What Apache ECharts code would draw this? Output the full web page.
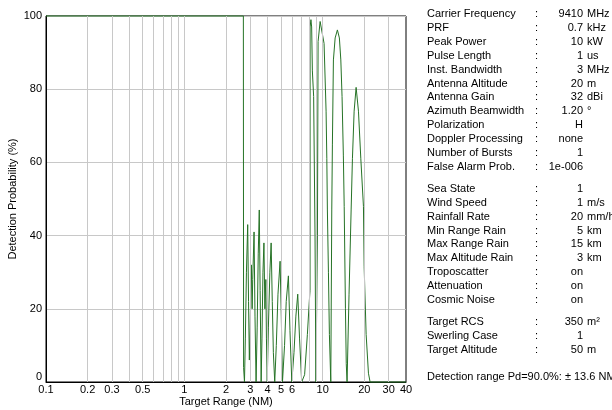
<!DOCTYPE html>
<html>
<head>
<meta charset="utf-8">
<script src="https://cdn.jsdelivr.net/npm/echarts@6/dist/echarts.min.js"></script>
<style>
html,body{margin:0;padding:0;background:#fff;}
#chart{width:612px;height:410px;}
</style>
</head>
<body>
<div id="chart"></div>
<script>
// ---- data ----
const rangeNM = [
  0.1, 2.67, 2.68, 2.72, 2.76, 2.81, 2.87, 2.91, 2.95, 2.99, 3.05, 3.09, 3.12, 3.19, 3.24, 3.30,
  3.36, 3.42, 3.48, 3.53, 3.59, 3.64, 3.70, 3.76, 3.82, 3.88, 3.92, 3.97, 4.05, 4.15, 4.24, 4.32,
  4.40, 4.50, 4.62, 4.75, 4.92, 5.02, 5.12, 5.30, 5.45, 5.65, 5.80, 5.98, 6.20, 6.40, 6.60, 6.80,
  7.05, 7.40, 7.75, 8.00, 8.10, 8.11, 8.22, 8.32, 8.42, 8.60, 8.80, 8.93, 9.12, 9.16, 9.26, 9.58,
  9.90, 10.23, 10.58, 10.71, 10.81, 11.00, 11.18, 11.44, 11.50, 11.63, 11.75, 11.95, 12.30, 12.77,
  13.20, 13.52, 13.80, 14.10, 14.30, 14.60, 14.80, 15.00, 15.09, 15.50, 16.05, 16.40, 16.87, 17.44,
  18.13, 18.86, 19.70, 19.93, 20.60, 21.41, 22.00, 40
];
const pdPercent = [
  100, 100, 4, 0, 12, 30, 43, 22, 6, 15, 32, 20, 28, 41, 18, 0,
  15, 35, 47, 25, 0, 12, 30, 38, 20, 28, 12, 0, 15, 30, 38, 22,
  8, 0, 10, 24, 33, 18, 0, 10, 22, 29, 14, 0, 8, 18, 24, 12,
  0, 2, 13, 22, 25, 97, 99, 97, 85, 78, 40, 0, 0, 40, 93, 98.5,
  99, 92.5, 74, 61, 47, 30, 13, 0, 0, 47, 65, 88, 94, 96.2,
  94, 88, 78, 62, 48, 20, 5, 0, 0, 24, 47, 61, 74, 80.5,
  74, 61, 48, 31.5, 13, 2.4, 0, 0
];
const xTickLabels = [0.1, 0.2, 0.3, 0.5, 1, 2, 3, 4, 5, 6, 10, 20, 30, 40];
const xGridValues = [0.2, 0.3, 0.4, 0.5, 0.6, 0.7, 0.8, 0.9, 1, 2, 3, 4, 5, 6, 7, 8, 9, 10, 20, 30];
const yTicks = [0, 20, 40, 60, 80, 100];

const paramLabels = ['Carrier Frequency','PRF','Peak Power','Pulse Length','Inst. Bandwidth','Antenna Altitude',
  'Antenna Gain','Azimuth Beamwidth','Polarization','Doppler Processing','Number of Bursts','False Alarm Prob.',
  'Sea State','Wind Speed','Rainfall Rate','Min Range Rain','Max Range Rain','Max Altitude Rain',
  'Troposcatter','Attenuation','Cosmic Noise',
  'Target RCS','Swerling Case','Target Altitude'];
const paramValues = ['9410','0.7','10','1','3','20','32','1.20','H','none','1','1e-006',
  '1','1','20','5','15','3','on','on','on',
  '350','1','50'];
const paramUnits = ['MHz','kHz','kW','us','MHz','m','dBi','°','','','','',
  '','m/s','mm/h','km','km','km','','','',
  'm²','','m'];
const blockStarts = [12, 21];
const footerText = 'Detection range Pd=90.0%: ± 13.6 NM';

// ---- build ----
const FONT = '11px "Liberation Sans", Arial, sans-serif';
const seriesData = rangeNM.map((r, i) => [r, pdPercent[i]]);

const graphics = [];
paramLabels.forEach((lab, i) => {
  const gaps = blockStarts.filter(b => i >= b).length;
  const y = 14 + i * 13.9 + gaps * 8;
  graphics.push({type:'text', style:{text:lab, x:427, y:y, font:FONT, fill:'#000', align:'left', verticalAlign:'middle'}});
  graphics.push({type:'text', style:{text:':', x:535, y:y, font:FONT, fill:'#000', align:'left', verticalAlign:'middle'}});
  graphics.push({type:'text', style:{text:paramValues[i], x:583, y:y, font:FONT, fill:'#000', align:'right', verticalAlign:'middle'}});
  if (paramUnits[i]) graphics.push({type:'text', style:{text:paramUnits[i], x:587, y:y, font:FONT, fill:'#000', align:'left', verticalAlign:'middle'}});
});
graphics.push({type:'text', style:{text:footerText, x:427, y:377, font:FONT, fill:'#000', align:'left', verticalAlign:'middle'}});

const chart = echarts.init(document.getElementById('chart'), null, {renderer:'canvas'});
chart.setOption({
  animation: false,
  backgroundColor: '#fff',
  textStyle: {fontFamily: '"Liberation Sans", Arial, sans-serif'},
  grid: {left:46, right:206, top:16, bottom:28, show:true, borderColor:'#000', borderWidth:1,
    backgroundColor:'transparent', containLabel:false, outerBoundsMode:'none'},
  xAxis: {
    type:'log', logBase:10, min:0.1, max:40,
    name:'Target Range (NM)', nameLocation:'middle', nameGap:14, nameMoveOverlap:false,
    nameTextStyle:{color:'#000', fontSize:11},
    axisLine:{show:true, lineStyle:{color:'#000', width:1}},
    axisTick:{show:false},
    splitLine:{show:false},
    minorTick:{show:false}, minorSplitLine:{show:false},
    axisLabel:{color:'#000', fontSize:11, margin:2, customValues: xTickLabels,
      formatter: v => String(+Number(v).toPrecision(6))}
  },
  yAxis: {
    type:'value', min:0, max:100, interval:20,
    name:'Detection Probability (%)', nameLocation:'middle', nameGap:28, nameRotate:90, nameMoveOverlap:false,
    nameTextStyle:{color:'#000', fontSize:11},
    axisLine:{show:true, lineStyle:{color:'#000', width:1}},
    axisTick:{show:false},
    splitLine:{show:true, lineStyle:{color:'#c8c8c8', width:1}},
    axisLabel:{color:'#000', fontSize:11, margin:4,
      formatter: v => v === 0 ? '{z|0}' : String(v),
      rich:{z:{fontSize:11, color:'#000', padding:[0,0,10,0]}}}
  },
  series: [
    {
      type:'line', z:1, data:[[0.1, 0]], showSymbol:false, lineStyle:{opacity:0}, silent:true,
      markLine:{silent:true, symbol:['none','none'], animation:false,
        label:{show:false},
        lineStyle:{color:'#c8c8c8', type:'solid', width:1},
        data: xGridValues.map(v => ({xAxis:v}))}
    },
    {
      type:'line', z:3, data:seriesData, showSymbol:false, clip:false, smooth:false,
      lineStyle:{color:'#267326', width:1}, itemStyle:{color:'#267326'}
    }
  ],
  graphic: graphics
});
</script>
</body>
</html>
